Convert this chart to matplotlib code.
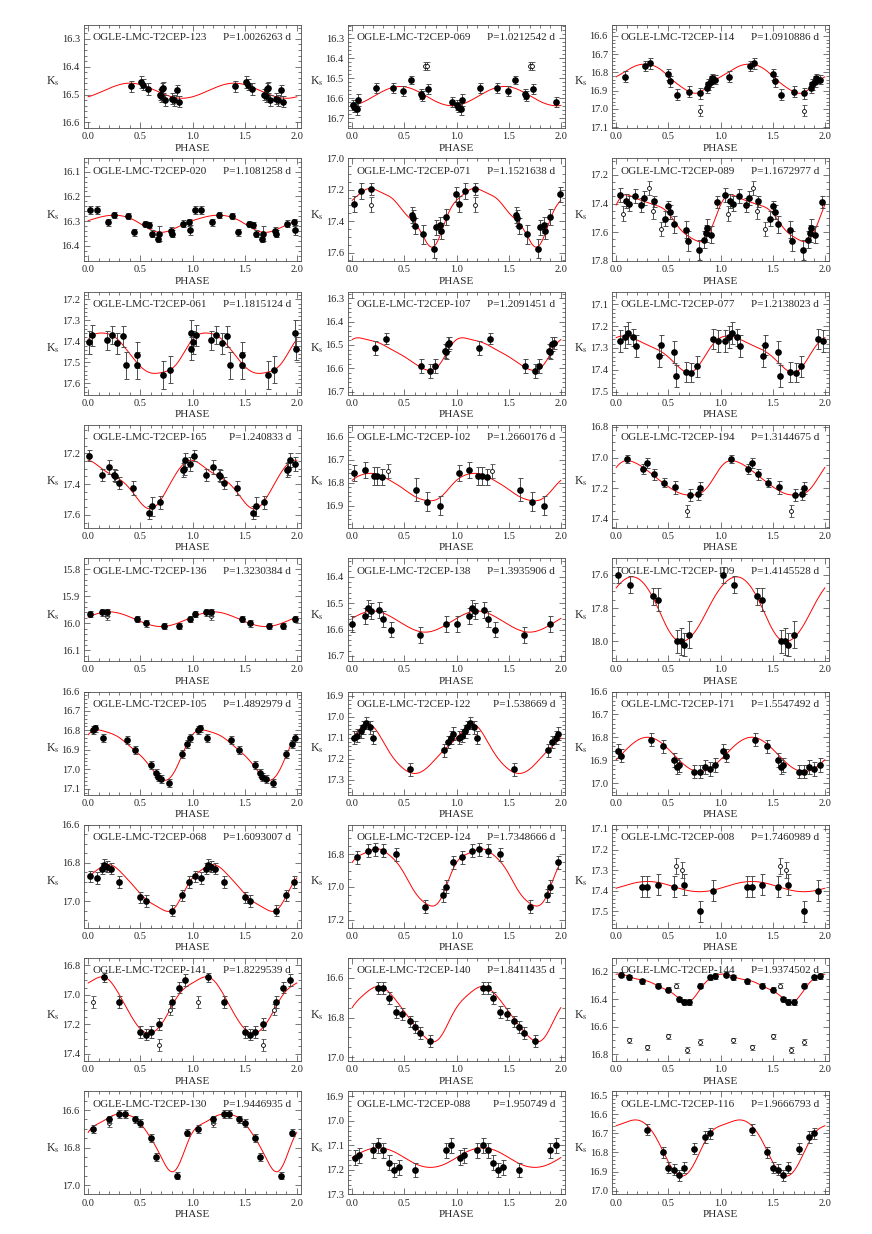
import numpy as np
import matplotlib
matplotlib.use('Agg')
import matplotlib.pyplot as plt
from matplotlib.ticker import MultipleLocator, FormatStrFormatter

plt.rcParams['font.family'] = ['Liberation Serif', 'DejaVu Serif']
plt.rcParams['mathtext.fontset'] = 'stix'

# etoiles, dans l'ordre des panneaux (ligne par ligne)
STARS = ['123', '069', '114', '020', '071', '089', '061', '107', '077',
         '165', '102', '194', '136', '138', '109', '105', '122', '171',
         '068', '124', '008', '141', '140', '144', '130', '088', '116']
PERIODS = ['1.0026263', '1.0212542', '1.0910886', '1.1081258', '1.1521638',
           '1.1672977', '1.1815124', '1.2091451', '1.2138023', '1.240833',
           '1.2660176', '1.3144675', '1.3230384', '1.3935906', '1.4145528',
           '1.4892979', '1.538669', '1.5547492', '1.6093007', '1.7348666',
           '1.7460989', '1.8229539', '1.8411435', '1.9374502', '1.9446935',
           '1.950749', '1.9666793']
# limites en Ks (bas, haut) -> axe inverse
YLIMS = [(16.62, 16.25), (16.75, 16.233), (17.105, 16.54), (16.462, 16.046),
         (17.656, 17.0), (17.805, 17.083), (17.654, 17.163), (16.713, 16.271),
         (17.514, 17.042), (17.685, 17.016), (16.997, 16.549), (17.459, 16.787),
         (16.14, 15.76), (16.72, 16.33), (18.12, 17.5), (17.13, 16.6),
         (17.37, 16.88), (17.05, 16.6), (17.14, 16.6), (17.25, 16.62),
         (17.58, 17.08), (17.45, 16.75), (17.02, 16.5), (16.85, 16.1),
         (17.05, 16.5), (17.3, 16.88), (17.02, 16.48)]
YSTEP = [0.1, 0.1, 0.1, 0.1, 0.2, 0.2, 0.1, 0.1, 0.1,
         0.2, 0.1, 0.2, 0.1, 0.1, 0.2, 0.1, 0.1, 0.1,
         0.2, 0.2, 0.1, 0.2, 0.2, 0.2, 0.2, 0.1, 0.1]

# mesures (phase, Ks, erreur)
POINTS = {
    '123': [(0.41, 16.47, 0.02), (0.51, 16.455, 0.02), (0.53, 16.465, 0.02), (0.57, 16.48, 0.02),
            (0.69, 16.50, 0.02), (0.70, 16.505, 0.02), (0.71, 16.48, 0.02), (0.72, 16.475, 0.02),
            (0.74, 16.52, 0.02), (0.80, 16.515, 0.02), (0.82, 16.52, 0.02), (0.85, 16.485, 0.02),
            (0.87, 16.525, 0.02)],
    '069': [(0.005, 16.633, 0.025), (0.015, 16.645, 0.025), (0.045, 16.655, 0.03), (0.055, 16.608, 0.03),
            (0.23, 16.55, 0.025), (0.39, 16.55, 0.025), (0.49, 16.562, 0.025), (0.56, 16.508, 0.02),
            (0.655, 16.578, 0.025), (0.67, 16.59, 0.025), (0.73, 16.555, 0.025), (0.955, 16.62, 0.025)],
    '114': [(0.08, 16.823, 0.03), (0.28, 16.765, 0.025), (0.32, 16.75, 0.03), (0.50, 16.81, 0.03),
            (0.52, 16.848, 0.03), (0.58, 16.922, 0.03), (0.70, 16.905, 0.03), (0.80, 16.915, 0.03),
            (0.87, 16.885, 0.03), (0.88, 16.865, 0.03), (0.91, 16.85, 0.03), (0.92, 16.832, 0.025),
            (0.95, 16.84, 0.025)],
    '020': [(0.02, 16.255, 0.015), (0.08, 16.255, 0.015), (0.19, 16.305, 0.015), (0.25, 16.275, 0.012),
            (0.38, 16.28, 0.012), (0.44, 16.345, 0.015), (0.54, 16.31, 0.012), (0.58, 16.315, 0.012),
            (0.61, 16.35, 0.015), (0.67, 16.37, 0.015), (0.68, 16.35, 0.03), (0.79, 16.34, 0.015),
            (0.80, 16.35, 0.015), (0.91, 16.31, 0.015), (0.97, 16.305, 0.015), (0.98, 16.335, 0.02)],
    '071': [(0.02, 17.29, 0.05), (0.08, 17.21, 0.05), (0.18, 17.195, 0.04), (0.57, 17.36, 0.05),
            (0.58, 17.38, 0.05), (0.60, 17.43, 0.05), (0.68, 17.485, 0.06), (0.78, 17.575, 0.06),
            (0.80, 17.44, 0.05), (0.84, 17.425, 0.05), (0.85, 17.465, 0.05), (0.90, 17.375, 0.05),
            (0.995, 17.23, 0.05)],
    '089': [(0.04, 17.34, 0.05), (0.09, 17.38, 0.05), (0.12, 17.40, 0.05), (0.18, 17.345, 0.05),
            (0.24, 17.41, 0.05), (0.27, 17.36, 0.05), (0.36, 17.385, 0.04), (0.47, 17.505, 0.05),
            (0.50, 17.42, 0.04), (0.52, 17.46, 0.05), (0.55, 17.545, 0.06), (0.67, 17.585, 0.06),
            (0.69, 17.665, 0.07), (0.79, 17.725, 0.07), (0.84, 17.655, 0.06), (0.86, 17.61, 0.06),
            (0.87, 17.57, 0.06), (0.91, 17.62, 0.06), (0.97, 17.39, 0.04)],
    '061': [(0.005, 17.405, 0.055), (0.035, 17.37, 0.05), (0.18, 17.395, 0.045), (0.23, 17.37, 0.045),
            (0.28, 17.41, 0.05), (0.33, 17.375, 0.05), (0.36, 17.515, 0.065), (0.47, 17.465, 0.06),
            (0.47, 17.515, 0.065), (0.72, 17.56, 0.065), (0.78, 17.535, 0.065), (0.985, 17.36, 0.06),
            (0.99, 17.435, 0.055)],
    '107': [(0.22, 16.513, 0.03), (0.32, 16.473, 0.025), (0.66, 16.59, 0.03), (0.75, 16.61, 0.03),
            (0.79, 16.59, 0.03), (0.89, 16.525, 0.03), (0.90, 16.53, 0.03), (0.92, 16.497, 0.03),
            (0.93, 16.492, 0.025)],
    '077': [(0.04, 17.27, 0.05), (0.08, 17.25, 0.05), (0.11, 17.233, 0.05), (0.16, 17.252, 0.04),
            (0.19, 17.29, 0.05), (0.41, 17.337, 0.05), (0.43, 17.287, 0.045), (0.55, 17.32, 0.05),
            (0.57, 17.427, 0.05), (0.67, 17.41, 0.045), (0.72, 17.413, 0.045), (0.77, 17.385, 0.05),
            (0.93, 17.258, 0.045), (0.98, 17.268, 0.05)],
    '165': [(0.01, 17.215, 0.035), (0.13, 17.34, 0.04), (0.20, 17.29, 0.045), (0.25, 17.34, 0.04),
            (0.26, 17.35, 0.04), (0.30, 17.395, 0.04), (0.43, 17.425, 0.045), (0.58, 17.585, 0.045),
            (0.61, 17.545, 0.06), (0.69, 17.52, 0.04), (0.91, 17.31, 0.045), (0.92, 17.30, 0.04),
            (0.93, 17.245, 0.045), (0.98, 17.27, 0.045)],
    '102': [(0.02, 16.76, 0.035), (0.12, 16.747, 0.035), (0.21, 16.77, 0.04), (0.24, 16.772, 0.04),
            (0.29, 16.777, 0.035), (0.61, 16.83, 0.05), (0.72, 16.883, 0.04), (0.84, 16.90, 0.04)],
    '194': [(0.10, 17.01, 0.025), (0.26, 17.075, 0.035), (0.30, 17.035, 0.035), (0.36, 17.11, 0.035),
            (0.46, 17.165, 0.03), (0.56, 17.195, 0.045), (0.71, 17.245, 0.04), (0.78, 17.24, 0.035),
            (0.80, 17.20, 0.04)],
    '136': [(0.02, 15.965, 0.012), (0.13, 15.96, 0.012), (0.18, 15.96, 0.012), (0.47, 15.985, 0.012),
            (0.55, 16.0, 0.012), (0.73, 16.01, 0.012), (0.87, 16.01, 0.012), (0.98, 15.985, 0.012)],
    '138': [(0.0, 16.58, 0.03), (0.12, 16.55, 0.03), (0.15, 16.52, 0.03), (0.18, 16.53, 0.03),
            (0.26, 16.525, 0.03), (0.30, 16.56, 0.03), (0.37, 16.6, 0.03), (0.65, 16.62, 0.03),
            (0.9, 16.58, 0.03)],
    '109': [(0.02, 17.6, 0.05), (0.13, 17.66, 0.05), (0.35, 17.73, 0.05), (0.40, 17.75, 0.07),
            (0.58, 18.0, 0.07), (0.62, 18.0, 0.08), (0.65, 18.02, 0.07), (0.70, 17.96, 0.08)],
    '105': [(0.05, 16.8, 0.02), (0.07, 16.79, 0.02), (0.14, 16.84, 0.02), (0.37, 16.85, 0.02),
            (0.45, 16.9, 0.02), (0.60, 16.98, 0.02), (0.65, 17.02, 0.02), (0.67, 17.04, 0.02),
            (0.70, 17.05, 0.02), (0.77, 17.07, 0.02), (0.90, 16.92, 0.02), (0.95, 16.87, 0.02),
            (0.98, 16.84, 0.02)],
    '122': [(0.02, 17.1, 0.03), (0.05, 17.09, 0.03), (0.08, 17.07, 0.03), (0.10, 17.05, 0.03),
            (0.13, 17.03, 0.03), (0.17, 17.05, 0.03), (0.20, 17.1, 0.03), (0.55, 17.25, 0.03),
            (0.88, 17.16, 0.03), (0.92, 17.12, 0.03), (0.95, 17.1, 0.03), (0.97, 17.08, 0.03)],
    '171': [(0.02, 16.86, 0.03), (0.05, 16.88, 0.03), (0.33, 16.81, 0.03), (0.45, 16.84, 0.03),
            (0.55, 16.9, 0.03), (0.58, 16.93, 0.03), (0.60, 16.92, 0.03), (0.75, 16.95, 0.03),
            (0.80, 16.95, 0.03), (0.85, 16.93, 0.03), (0.90, 16.94, 0.03), (0.95, 16.92, 0.03)],
    '068': [(0.02, 16.87, 0.03), (0.08, 16.88, 0.03), (0.13, 16.83, 0.03), (0.15, 16.81, 0.03),
            (0.18, 16.82, 0.03), (0.22, 16.83, 0.03), (0.30, 16.9, 0.03), (0.50, 16.98, 0.03),
            (0.55, 17.0, 0.03), (0.80, 17.05, 0.03), (0.90, 16.97, 0.03), (0.97, 16.9, 0.03)],
    '124': [(0.05, 16.82, 0.04), (0.15, 16.78, 0.04), (0.22, 16.77, 0.04), (0.30, 16.78, 0.04),
            (0.42, 16.8, 0.04), (0.70, 17.12, 0.04), (0.87, 17.05, 0.04), (0.90, 17.0, 0.04),
            (0.97, 16.85, 0.04)],
    '008': [(0.25, 17.38, 0.05), (0.30, 17.38, 0.05), (0.40, 17.37, 0.05), (0.55, 17.38, 0.05),
            (0.65, 17.37, 0.05), (0.80, 17.5, 0.05), (0.93, 17.4, 0.05)],
    '141': [(0.15, 16.88, 0.03), (0.30, 17.05, 0.04), (0.50, 17.25, 0.04), (0.55, 17.27, 0.04),
            (0.60, 17.25, 0.04), (0.68, 17.2, 0.04), (0.80, 17.05, 0.04), (0.87, 16.95, 0.04),
            (0.93, 16.9, 0.04)],
    '140': [(0.25, 16.65, 0.03), (0.30, 16.65, 0.03), (0.35, 16.7, 0.03), (0.42, 16.77, 0.03),
            (0.48, 16.78, 0.03), (0.55, 16.82, 0.03), (0.60, 16.85, 0.03), (0.65, 16.88, 0.03),
            (0.75, 16.92, 0.03)],
    '144': [(0.05, 16.22, 0.02), (0.12, 16.24, 0.02), (0.25, 16.27, 0.02), (0.40, 16.3, 0.02),
            (0.50, 16.33, 0.02), (0.60, 16.4, 0.02), (0.65, 16.42, 0.02), (0.70, 16.42, 0.02),
            (0.80, 16.3, 0.02), (0.90, 16.24, 0.02), (0.95, 16.23, 0.02)],
    '130': [(0.05, 16.7, 0.02), (0.20, 16.65, 0.02), (0.30, 16.62, 0.02), (0.35, 16.62, 0.02),
            (0.45, 16.65, 0.02), (0.50, 16.67, 0.02), (0.60, 16.75, 0.02), (0.65, 16.85, 0.02),
            (0.85, 16.95, 0.02), (0.95, 16.72, 0.02)],
    '088': [(0.03, 17.15, 0.03), (0.07, 17.14, 0.03), (0.20, 17.12, 0.03), (0.25, 17.1, 0.03),
            (0.30, 17.12, 0.03), (0.35, 17.17, 0.03), (0.40, 17.2, 0.03), (0.45, 17.19, 0.03),
            (0.60, 17.2, 0.03), (0.90, 17.12, 0.03), (0.95, 17.1, 0.03)],
    '116': [(0.30, 16.68, 0.03), (0.45, 16.8, 0.03), (0.50, 16.88, 0.03), (0.55, 16.89, 0.03),
            (0.60, 16.92, 0.03), (0.65, 16.88, 0.03), (0.75, 16.78, 0.03), (0.85, 16.72, 0.03),
            (0.90, 16.7, 0.03)],
}

# mesures rejetees (cercles vides)
OPEN = {
    '069': [(0.70, 16.44, 0.02), (0.72, 16.44, 0.02)],
    '114': [(0.80, 17.01, 0.03)],
    '071': [(0.18, 17.295, 0.05)],
    '089': [(0.07, 17.47, 0.05), (0.31, 17.29, 0.05), (0.35, 17.455, 0.05), (0.43, 17.58, 0.05)],
    '102': [(0.34, 16.75, 0.03)],
    '194': [(0.68, 17.35, 0.04)],
    '136': [(0.18, 15.975, 0.012)],
    '008': [(0.57, 17.28, 0.04), (0.63, 17.3, 0.04)],
    '141': [(0.05, 17.05, 0.04), (0.68, 17.34, 0.04), (0.78, 17.1, 0.04)],
    '144': [(0.12, 16.7, 0.02), (0.30, 16.75, 0.02), (0.50, 16.67, 0.02), (0.57, 16.30, 0.02),
            (0.68, 16.77, 0.02), (0.80, 16.71, 0.02)],
    '130': [(0.20, 16.67, 0.02)],
}

# courbe ajustee : (phase, Ks)
CURVE = {
    '123': [(0.0, 16.508), (0.1, 16.494), (0.2, 16.478), (0.3, 16.464), (0.4, 16.459),
            (0.5, 16.464), (0.6, 16.478), (0.7, 16.494), (0.8, 16.508), (0.9, 16.513)],
    '069': [(0.0, 16.637), (0.1, 16.621), (0.2, 16.593), (0.3, 16.564), (0.4, 16.545),
            (0.5, 16.543), (0.6, 16.559), (0.7, 16.587), (0.8, 16.616), (0.9, 16.635)],
    '114': [(0.0, 16.825), (0.1, 16.79), (0.2, 16.762), (0.3, 16.755), (0.4, 16.775),
            (0.5, 16.82), (0.6, 16.87), (0.7, 16.905), (0.8, 16.91), (0.9, 16.865)],
    '020': [(0.0, 16.298), (0.1, 16.285), (0.2, 16.277), (0.3, 16.277), (0.4, 16.288),
            (0.5, 16.31), (0.6, 16.335), (0.7, 16.345), (0.8, 16.335), (0.9, 16.315)],
    '071': [(0.0, 17.265), (0.1, 17.21), (0.2, 17.197), (0.3, 17.22), (0.4, 17.27),
            (0.5, 17.34), (0.6, 17.42), (0.7, 17.51), (0.77, 17.578), (0.8, 17.55),
            (0.85, 17.47), (0.9, 17.385), (0.95, 17.32)],
    '089': [(0.0, 17.41), (0.1, 17.34), (0.2, 17.365), (0.3, 17.395), (0.4, 17.415),
            (0.5, 17.47), (0.6, 17.565), (0.7, 17.635), (0.8, 17.665), (0.9, 17.60),
            (0.95, 17.50)],
    '061': [(0.0, 17.39), (0.1, 17.362), (0.2, 17.365), (0.3, 17.40), (0.4, 17.46),
            (0.5, 17.52), (0.6, 17.55), (0.7, 17.55), (0.8, 17.53), (0.9, 17.47)],
    '107': [(0.0, 16.478), (0.1, 16.472), (0.2, 16.483), (0.3, 16.50), (0.4, 16.525),
            (0.5, 16.55), (0.6, 16.58), (0.7, 16.605), (0.75, 16.61), (0.8, 16.60),
            (0.9, 16.54), (0.95, 16.50)],
    '077': [(0.0, 17.255), (0.1, 17.245), (0.2, 17.265), (0.3, 17.285), (0.4, 17.31),
            (0.5, 17.34), (0.6, 17.39), (0.7, 17.41), (0.75, 17.405), (0.8, 17.375),
            (0.9, 17.30), (0.95, 17.27)],
    '165': [(0.0, 17.245), (0.1, 17.285), (0.2, 17.33), (0.3, 17.37), (0.4, 17.43),
            (0.5, 17.52), (0.6, 17.56), (0.7, 17.50), (0.8, 17.38), (0.9, 17.28)],
    '102': [(0.0, 16.79), (0.1, 16.765), (0.2, 16.76), (0.3, 16.775), (0.4, 16.80),
            (0.5, 16.83), (0.6, 16.86), (0.7, 16.877), (0.8, 16.875), (0.9, 16.84)],
    '194': [(0.0, 17.065), (0.1, 17.02), (0.2, 17.04), (0.3, 17.085), (0.4, 17.14),
            (0.5, 17.19), (0.6, 17.23), (0.7, 17.245), (0.8, 17.235), (0.9, 17.17)],
    '136': [(0.0, 15.977), (0.1, 15.963), (0.2, 15.958), (0.3, 15.963), (0.4, 15.977),
            (0.5, 15.993), (0.6, 16.007), (0.7, 16.012), (0.8, 16.007), (0.9, 15.993)],
    '138': [(0.0, 16.558), (0.1, 16.538), (0.2, 16.53), (0.3, 16.538), (0.4, 16.558),
            (0.5, 16.582), (0.6, 16.602), (0.7, 16.61), (0.8, 16.602), (0.9, 16.582)],
    '109': [(0.0, 17.68), (0.1, 17.62), (0.2, 17.62), (0.3, 17.68), (0.4, 17.8),
            (0.5, 17.93), (0.6, 18.0), (0.7, 17.98), (0.8, 17.9), (0.9, 17.78)],
    '105': [(0.0, 16.82), (0.1, 16.8), (0.2, 16.81), (0.3, 16.84), (0.4, 16.88),
            (0.5, 16.93), (0.6, 16.99), (0.7, 17.05), (0.75, 17.06), (0.8, 17.03), (0.9, 16.93)],
    '122': [(0.0, 17.1), (0.1, 17.05), (0.15, 17.03), (0.2, 17.05), (0.3, 17.12), (0.4, 17.2),
            (0.5, 17.25), (0.6, 17.27), (0.7, 17.25), (0.8, 17.2), (0.9, 17.15)],
    '171': [(0.0, 16.898), (0.1, 16.852), (0.2, 16.814), (0.3, 16.8), (0.4, 16.814),
            (0.5, 16.852), (0.6, 16.898), (0.7, 16.936), (0.8, 16.95), (0.9, 16.936)],
    '068': [(0.0, 16.88), (0.1, 16.83), (0.2, 16.81), (0.3, 16.84), (0.4, 16.9),
            (0.5, 16.96), (0.6, 17.01), (0.7, 17.04), (0.8, 17.05), (0.9, 16.97)],
    '124': [(0.0, 16.85), (0.1, 16.8), (0.2, 16.77), (0.3, 16.78), (0.4, 16.83),
            (0.5, 16.92), (0.6, 17.03), (0.7, 17.1), (0.8, 17.11), (0.9, 17.0)],
    '008': [(0.0, 17.388), (0.1, 17.372), (0.2, 17.36), (0.3, 17.355), (0.4, 17.36),
            (0.5, 17.372), (0.6, 17.388), (0.7, 17.4), (0.8, 17.405), (0.9, 17.4)],
    '141': [(0.0, 16.92), (0.1, 16.88), (0.2, 16.9), (0.3, 17.0), (0.4, 17.13),
            (0.5, 17.23), (0.6, 17.26), (0.7, 17.2), (0.8, 17.08), (0.9, 16.97)],
    '140': [(0.0, 16.75), (0.1, 16.69), (0.2, 16.65), (0.3, 16.65), (0.4, 16.7),
            (0.5, 16.77), (0.6, 16.84), (0.7, 16.9), (0.8, 16.92), (0.9, 16.85)],
    '144': [(0.0, 16.215), (0.1, 16.23), (0.2, 16.25), (0.3, 16.27), (0.4, 16.3),
            (0.5, 16.34), (0.6, 16.39), (0.7, 16.42), (0.8, 16.33), (0.9, 16.25)],
    '130': [(0.0, 16.72), (0.1, 16.67), (0.2, 16.64), (0.3, 16.62), (0.4, 16.63),
            (0.5, 16.67), (0.6, 16.75), (0.7, 16.85), (0.8, 16.93), (0.9, 16.85)],
    '088': [(0.0, 17.15), (0.1, 17.126), (0.2, 17.112), (0.3, 17.112), (0.4, 17.126),
            (0.5, 17.15), (0.6, 17.174), (0.7, 17.188), (0.8, 17.188), (0.9, 17.174)],
    '116': [(0.0, 16.66), (0.1, 16.64), (0.2, 16.63), (0.3, 16.66), (0.4, 16.74),
            (0.5, 16.85), (0.6, 16.92), (0.7, 16.9), (0.8, 16.8), (0.9, 16.7)],
}


def fourier_curve(keys, phase):
    # serie de Fourier periodique passant au mieux par les points lus
    ph = np.array([k[0] for k in keys])
    mag = np.array([k[1] for k in keys])
    order = min(4, (len(ph) - 1) // 2)
    cols = [np.ones_like(ph)]
    for k in range(1, order + 1):
        cols += [np.cos(2 * np.pi * k * ph), np.sin(2 * np.pi * k * ph)]
    coef = np.linalg.lstsq(np.array(cols).T, mag, rcond=None)[0]
    out = np.full_like(phase, coef[0])
    for k in range(1, order + 1):
        out += coef[2 * k - 1] * np.cos(2 * np.pi * k * phase) + coef[2 * k] * np.sin(2 * np.pi * k * phase)
    return out


def two_cycles(pts):
    ph = np.array([p[0] for p in pts])
    mag = np.array([p[1] for p in pts])
    err = np.array([p[2] for p in pts])
    return np.concatenate([ph, ph + 1]), np.concatenate([mag, mag]), np.concatenate([err, err])


W, H = 872, 1234
fig = plt.figure(figsize=(W / 100, H / 100), dpi=100)
grid_ph = np.linspace(0, 2, 600)

for i, star in enumerate(STARS):
    r, c = divmod(i, 3)
    left = 84 + 264 * c
    top = 25 + 133.3 * r
    ax = fig.add_axes([left / W, 1 - (top + 103) / H, 217 / W, 103 / H])

    ax.plot(grid_ph, fourier_curve(CURVE[star], grid_ph), color='red', lw=0.7, zorder=2)

    if star in OPEN:
        ph, mag, err = two_cycles(OPEN[star])
        ax.errorbar(ph, mag, yerr=err, fmt='o', ms=2.8, mfc='white', mec='black', mew=0.6,
                    ecolor='0.3', elinewidth=0.7, capsize=1.8, capthick=0.7, zorder=3)
    ph, mag, err = two_cycles(POINTS[star])
    ax.errorbar(ph, mag, yerr=err, fmt='o', ms=3.8, mfc='black', mec='black',
                ecolor='0.3', elinewidth=0.7, capsize=1.8, capthick=0.7, zorder=4)

    ax.set_xlim(-0.04, 2.04)
    ax.set_ylim(*YLIMS[i])
    ax.xaxis.set_major_locator(MultipleLocator(0.5))
    ax.xaxis.set_minor_locator(MultipleLocator(0.1))
    ax.xaxis.set_major_formatter(FormatStrFormatter('%.1f'))
    ax.yaxis.set_major_locator(MultipleLocator(YSTEP[i]))
    ax.yaxis.set_minor_locator(MultipleLocator(YSTEP[i] / (5 if YSTEP[i] < 0.15 else 4)))
    ax.yaxis.set_major_formatter(FormatStrFormatter('%.1f'))
    ax.tick_params(which='both', direction='in', top=True, right=True, labelsize=7.5,
                   width=0.5, colors='0.25', labelcolor='0.15')
    ax.tick_params(which='major', length=4, pad=3)
    ax.tick_params(which='minor', length=2)
    for s in ax.spines.values():
        s.set_linewidth(0.6)
        s.set_color('0.3')

    ax.text(0.04, 0.875, 'OGLE-LMC-T2CEP-' + star, transform=ax.transAxes,
            fontsize=8, va='center', ha='left', color='0.15')
    ax.text(0.955, 0.875, 'P=' + PERIODS[i] + ' d', transform=ax.transAxes,
            fontsize=8, va='center', ha='right', color='0.15')
    ax.text(-0.145, 0.45, r'K$_\mathrm{s}$', transform=ax.transAxes,
            fontsize=8.5, va='center', ha='center', color='0.15')
    ax.text(0.5, -0.195, 'PHASE', transform=ax.transAxes,
            fontsize=8, va='center', ha='center', color='0.15')

fig.savefig('out.png', dpi=100)
